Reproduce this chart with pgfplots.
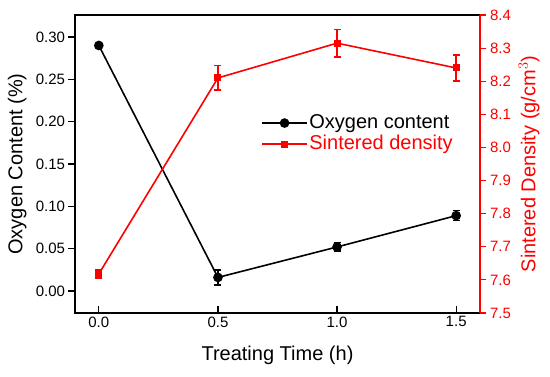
\documentclass[border=0pt]{standalone}
\usepackage{pgfplots}
\pgfplotsset{compat=1.18}
\usepackage{fontspec}
\setmainfont{Liberation Sans}
\definecolor{dred}{RGB}{255,0,0}
\pgfplotsset{
  my legend/.style={legend image code/.code={\draw[mark repeat=2,mark phase=2] plot coordinates {(0pt,0pt) (22.5pt,0pt) (45pt,0pt)};}},
}
\begin{document}
\begin{tikzpicture}[font=\fontsize{15}{17}\selectfont]
\useasboundingbox (-75pt,-64pt) rectangle (475pt,313pt);
\begin{axis}[
  at={(0,0)}, anchor=south west,
  scale only axis, width=405pt, height=298pt,
  xmin=-0.1, xmax=1.6, ymin=-0.026, ymax=0.326,
  xtick={0,0.5,1,1.5}, ytick={0,0.05,...,0.3},
  xticklabel style={/pgf/number format/.cd,fixed,fixed zerofill,precision=1},
  yticklabel style={/pgf/number format/.cd,fixed,fixed zerofill,precision=2},
  /pgf/number format/assume math mode=true,
  x tick style={black, line width=1.2pt},
  y tick style={black, line width=1.2pt},
  xtick align=inside, ytick align=outside,
  xtick pos=bottom, ytick pos=left,
  major tick length=6.5pt,
  axis line style={line width=1.3pt},
  xlabel={Treating Time (h)}, ylabel={Oxygen Content (\%)},
  xlabel style={font=\fontsize{20}{22}\selectfont, at={(axis description cs:0.5,-0.141)}, anchor=center},
  ylabel style={font=\fontsize{20}{22}\selectfont, at={(axis description cs:-0.143,0.5)}, anchor=center},
  every axis plot/.append style={line width=1.6pt},
]
\addplot[black, mark=*, mark size=4pt, error bars/.cd, y dir=both, y explicit, error bar style={line width=1.4pt}, error mark options={rotate=90, mark size=3.5pt, line width=1.4pt}]
coordinates {(0,0.290)+-(0,0.002) (0.5,0.016)+-(0,0.009) (1.0,0.052)+-(0,0.005) (1.5,0.089)+-(0,0.006)};
\end{axis}
\begin{axis}[
  at={(0,0)}, anchor=south west,
  scale only axis, width=405pt, height=298pt,
  xmin=-0.1, xmax=1.6, ymin=7.5, ymax=8.4,
  axis y line*=right, hide x axis,
  ytick={7.5,7.6,...,8.41},
  yticklabel style={dred},
  yticklabel style={/pgf/number format/.cd,fixed,fixed zerofill,precision=1},
  /pgf/number format/assume math mode=true,
  y axis line style={dred, line width=1.3pt},
  y tick style={dred, line width=1.2pt},
  ytick align=outside, major tick length=6.5pt,
  ylabel={Sintered Density (g/cm$^3$)},
  ylabel style={dred, font=\fontsize{20}{22}\selectfont, at={(axis description cs:1.121,0.5)}, anchor=center},
  every axis plot/.append style={line width=1.6pt},
  my legend,
  legend style={draw=none, fill=none, at={(axis description cs:0.452,0.68)}, anchor=north west, font=\fontsize{20}{22}\selectfont, row sep=0pt, nodes={inner sep=1.5pt, text height=14pt, text depth=4pt}},
  legend cell align=left,
]
\addlegendimage{black, line width=1.6pt, mark=*, mark size=4pt}
\addlegendentry{Oxygen content}
\addplot[dred, mark=square*, mark size=2.7pt, error bars/.cd, y dir=both, y explicit, error bar style={line width=1.4pt}, error mark options={rotate=90, mark size=3.5pt, line width=1.4pt}]
coordinates {(0,7.618)+-(0,0.012) (0.5,8.21)+-(0,0.037) (1.0,8.315)+-(0,0.042) (1.5,8.24)+-(0,0.039)};
\addlegendentry{\textcolor{dred}{Sintered density}}
\end{axis}
\end{tikzpicture}
\end{document}
